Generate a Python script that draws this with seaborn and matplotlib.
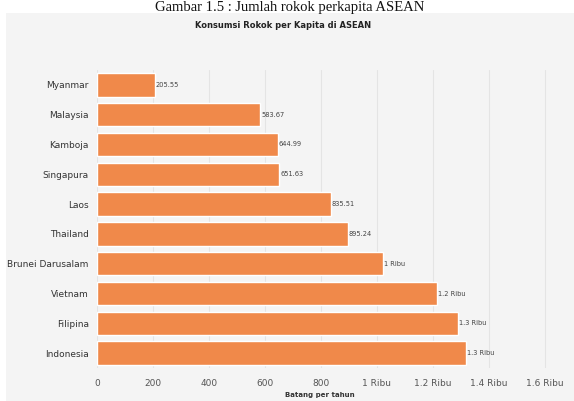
import matplotlib
matplotlib.use("Agg")
import matplotlib.pyplot as plt
import seaborn as sns
import pandas as pd

countries = ["Myanmar", "Malaysia", "Kamboja", "Singapura", "Laos", "Thailand",
             "Brunei Darusalam", "Vietnam", "Filipina", "Indonesia"]
values = [205.55, 583.67, 644.99, 651.63, 835.51, 895.24, 1021, 1214, 1289, 1318]
value_labels = ["205.55", "583.67", "644.99", "651.63", "835.51", "895.24",
                "1 Ribu", "1.2 Ribu", "1.3 Ribu", "1.3 Ribu"]
x_ticks = [0, 200, 400, 600, 800, 1000, 1200, 1400, 1600]
x_tick_labels = ["0", "200", "400", "600", "800", "1 Ribu", "1.2 Ribu", "1.4 Ribu", "1.6 Ribu"]
title = "Konsumsi Rokok per Kapita di ASEAN"
x_label = "Batang per tahun"
caption = "Gambar 1.5 : Jumlah rokok perkapita ASEAN"

df = pd.DataFrame({"negara": countries, "nilai": values})

sns.set_theme(style="white")
plt.rcParams['font.family'] = ['DejaVu Sans']

W, H = 574, 401
fig = plt.figure(figsize=(W / 100, H / 100), dpi=100)
fig.patch.set_facecolor("white")

# grey chart panel
panel = plt.Rectangle((6 / W, 0), 1 - 6 / W, 1 - 13 / H, transform=fig.transFigure,
                      facecolor="#f4f4f4", edgecolor="none", zorder=-5)
fig.add_artist(panel)

ax = fig.add_axes([97 / W, 1 - 368 / H, (556 - 97) / W, (368 - 70) / H])
ax.set_zorder(1)
ax.set_facecolor("#f4f4f4")

sns.barplot(data=df, x="nilai", y="negara", color="#f0894a", saturation=1,
            width=0.78, ax=ax, zorder=2)

ax.set_xlim(0, 1640)
ax.set_xticks(x_ticks)
ax.set_xticklabels(x_tick_labels, fontsize=6.5, color="#555555")
ax.tick_params(axis="y", labelsize=6.5, labelcolor="#333333", length=0, pad=6)
ax.tick_params(axis="x", length=0, pad=8)
ax.grid(axis="x", color="#e4e4e4", linewidth=0.8, zorder=0)
ax.set_axisbelow(True)
for s in ax.spines.values():
    s.set_visible(False)
ax.set_ylabel("")
ax.set_xlabel("")

for i, (v, lab) in enumerate(zip(values, value_labels)):
    ax.text(v + 4, i, lab, va="center", ha="left", fontsize=4.8, color="#444444")

fig.text(283 / W, 1 - 25 / H, title, ha="center", va="center", fontsize=6,
         fontweight="bold", color="#222222")
fig.text(320 / W, 1 - 395 / H, x_label, ha="center", va="center", fontsize=5,
         fontweight="bold", color="#333333")
fig.text(290 / W, 1 - 1 / H, caption, ha="center", va="top", fontsize=10.5,
         family="Liberation Serif", color="#111111")

fig.savefig("out.png", dpi=100, facecolor="white")
